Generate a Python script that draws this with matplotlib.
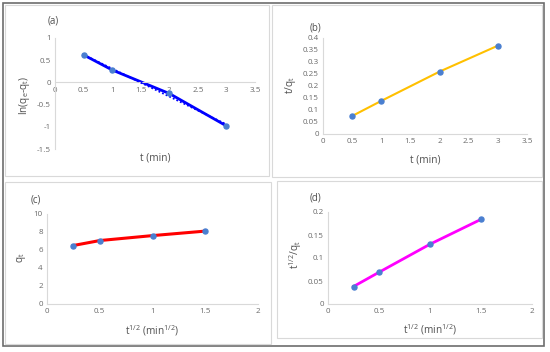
import matplotlib
matplotlib.use("Agg")
import matplotlib.pyplot as plt
import numpy as np
from matplotlib.patches import Rectangle

# data
t = [0.5, 1, 2, 3]
ln_qe_qt = [0.62, 0.28, -0.25, -0.98]
t_over_qt = [0.075, 0.138, 0.26, 0.368]
sqrt_t = [0.25, 0.5, 1, 1.5]
qt = [6.5, 7.05, 7.6, 8.1]
sqrt_t_over_qt = [0.038, 0.069, 0.13, 0.184]

W, H = 550, 352
TICK_COLOR = '#6a6a6a'
MARKER_COLOR = '#4a7fd0'

plt.rcParams['font.family'] = ['Open Sans', 'DejaVu Sans']

fig = plt.figure(figsize=(W / 100, H / 100), dpi=100)


def px_axes(x0, x1, y_top, y_bot):
    # pixel box -> figure fraction axes
    return fig.add_axes([x0 / W, 1 - y_bot / H, (x1 - x0) / W, (y_bot - y_top) / H])


def box(x0, y0, x1, y1, color, lw):
    fig.patches.append(Rectangle((x0 / W, 1 - y1 / H), (x1 - x0) / W, (y1 - y0) / H,
                                 transform=fig.transFigure, fill=False,
                                 edgecolor=color, linewidth=lw))


def style(ax, xticks, yticks, xlim, ylim, zero_axis=False):
    ax.set_xlim(xlim)
    ax.set_ylim(ylim)
    ax.set_xticks(xticks)
    ax.set_yticks(yticks)
    ax.set_xticklabels([f"{v:g}" for v in xticks])
    ax.set_yticklabels([f"{v:g}" for v in yticks])
    ax.tick_params(length=0, labelsize=5.8, labelcolor=TICK_COLOR, pad=3)
    for s in ['top', 'right']:
        ax.spines[s].set_visible(False)
    for s in ['left', 'bottom']:
        ax.spines[s].set_color('#d9d9d9')
        ax.spines[s].set_linewidth(0.8)
    if zero_axis:
        ax.spines['bottom'].set_position(('data', 0))
    ax.patch.set_alpha(0)


def panel_text(x, y, s, **kw):
    fig.text(x / W, 1 - y / H, s, ha='center', va='center', color='#505050', **kw)


# panel frames
box(3, 3, 544, 346, '#6d6d6d', 1.2)
box(5, 5, 269, 176, '#d9d9d9', 0.8)
box(272, 5, 542, 177, '#d9d9d9', 0.8)
box(5, 182, 271, 344, '#d9d9d9', 0.8)
box(277, 181, 542, 338, '#d9d9d9', 0.8)

# (a) pseudo-first-order
ax = px_axes(55, 255, 38, 149)
style(ax, np.arange(0, 3.51, 0.5), np.arange(-1.5, 1.01, 0.5), (0, 3.5), (-1.5, 1), zero_axis=True)
ax.plot(t, ln_qe_qt, color='#0000ff', lw=2, zorder=2)
fit = np.polyfit(t, ln_qe_qt, 1)
ax.plot(t, np.polyval(fit, t), color='#0000ff', lw=1.3, ls=(0, (1, 1.2)), zorder=3)
ax.plot(t, ln_qe_qt, 'o', color=MARKER_COLOR, ms=3.6, zorder=4)
panel_text(53, 21, '(a)', fontsize=7)
panel_text(155, 158, 't (min)', fontsize=7.3)
panel_text(24, 95, r'ln(q$_\mathregular{e}$-q$_\mathregular{t}$)', fontsize=7.3, rotation=90)

# (b) pseudo-second-order
ax = px_axes(323, 527, 38, 134)
style(ax, np.arange(0, 3.51, 0.5), np.round(np.arange(0, 0.401, 0.05), 2), (0, 3.5), (0, 0.4))
ax.plot(t, t_over_qt, color='#ffc000', lw=1.5, zorder=2)
ax.plot(t, t_over_qt, 'o', color=MARKER_COLOR, ms=3.6, zorder=4)
panel_text(315, 28, '(b)', fontsize=7)
panel_text(425, 160, 't (min)', fontsize=7.3)
panel_text(290, 85, r't/q$_\mathregular{t}$', fontsize=7.3, rotation=90)

# (c) intraparticle diffusion
ax = px_axes(47, 258, 214, 304)
style(ax, np.arange(0, 2.01, 0.5), np.arange(0, 10.1, 2), (0, 2), (0, 10))
ax.plot(sqrt_t, qt, color='#ff0000', lw=2.2, zorder=2)
ax.plot(sqrt_t, qt, 'o', color=MARKER_COLOR, ms=3.6, zorder=4)
panel_text(36, 200, '(c)', fontsize=7)
panel_text(152, 331, r't$^\mathregular{1/2}$ (min$^\mathregular{1/2}$)', fontsize=7.3)
panel_text(22, 258, r'q$_\mathregular{t}$', fontsize=7.3, rotation=90)

# (d)
ax = px_axes(328, 532, 212, 304)
style(ax, np.arange(0, 2.01, 0.5), np.round(np.arange(0, 0.201, 0.05), 2), (0, 2), (0, 0.2))
ax.plot(sqrt_t, sqrt_t_over_qt, color='#ff00ff', lw=2, zorder=2)
ax.plot(sqrt_t, sqrt_t_over_qt, 'o', color=MARKER_COLOR, ms=3.6, zorder=4)
panel_text(316, 198, '(d)', fontsize=7)
panel_text(430, 330, r't$^\mathregular{1/2}$ (min$^\mathregular{1/2}$)', fontsize=7.3)
panel_text(296, 254, r't$^\mathregular{1/2}$/q$_\mathregular{t}$', fontsize=7.3, rotation=90)

fig.savefig('out.png', dpi=100)
